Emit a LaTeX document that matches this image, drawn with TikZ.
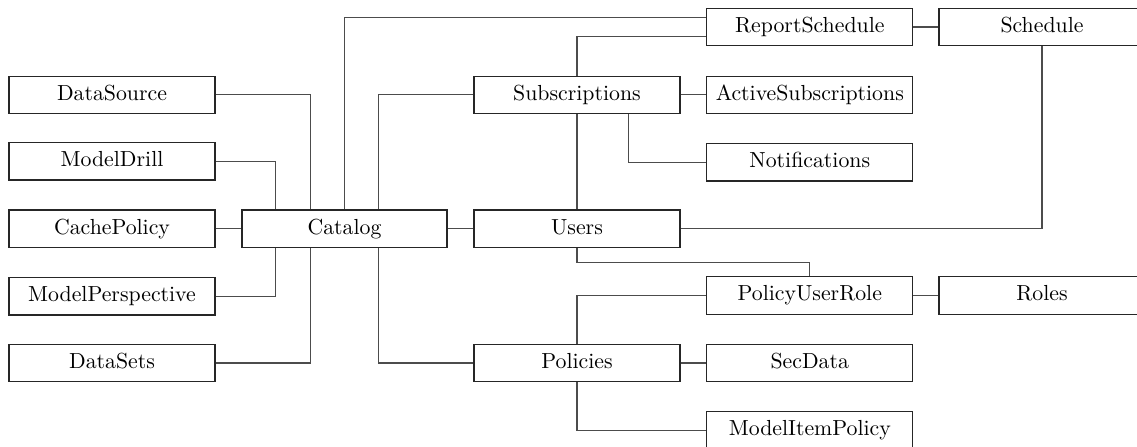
\documentclass[tikz,border=0pt]{standalone}
\usetikzlibrary{calc}
\begin{document}
\begin{tikzpicture}[x=0.5pt,y=-0.5pt,
  tbl/.style={draw=black!85, line width=0.6pt, minimum width=103pt, minimum height=18.75pt,
    inner sep=0pt, text height=7.4pt, text depth=2.2pt, anchor=center,
    font=\fontsize{10.9}{13}\selectfont},
  link/.style={draw=black!70, line width=0.55pt}]
\useasboundingbox (0,0) rectangle (1137,446);
\clip (0,0) rectangle (1137,446);

% left column
\node[tbl] (ds)  at (112,94.9)  {DataSource};
\node[tbl] (md)  at (112,161.2) {ModelDrill};
\node[tbl] (cp)  at (112,228.8) {CachePolicy};
\node[tbl] (mp)  at (112,296.3) {ModelPerspective};
\node[tbl] (dss) at (112,363)   {DataSets};

% catalog
\node[tbl, minimum width=102.5pt] (cat) at (344.5,228.8) {Catalog};

% middle column
\node[tbl] (sub) at (577,94.9)  {Subscriptions};
\node[tbl] (usr) at (577,228.8) {Users};
\node[tbl] (pol) at (577,363)   {Policies};

% right column
\node[tbl] (rs)  at (809.8,27)    {ReportSchedule};
\node[tbl] (act) at (809.8,94.9)  {ActiveSubscriptions};
\node[tbl] (ntf) at (809.8,162.3) {Notifications};
\node[tbl] (pur) at (809.8,295.5) {PolicyUserRole};
\node[tbl] (sec) at (809.8,363)   {SecData};
\node[tbl] (mip) at (809.8,430.5) {ModelItemPolicy};

% far right column
\node[tbl] (sch) at (1042,27)    {Schedule};
\node[tbl] (rol) at (1042,295.5) {Roles};

% catalog links
\draw[link] (ds.east) -| ($(cat.north west)!1/3!(cat.north east)$);
\draw[link] (md.east) -| ($(cat.north west)!1/6!(cat.north east)$);
\draw[link] (cp.east) -- (cat.west);
\draw[link] (mp.east) -| ($(cat.south west)!1/6!(cat.south east)$);
\draw[link] (dss.east) -| ($(cat.south west)!1/3!(cat.south east)$);
\draw[link] (cat.north) |- ($(rs.north west)!0.25!(rs.south west)$);
\draw[link] ($(cat.north west)!2/3!(cat.north east)$) |- (sub.west);
\draw[link] ($(cat.south west)!2/3!(cat.south east)$) |- (pol.west);
\draw[link] (cat.east) -- (usr.west);

% subscriptions links
\draw[link] (sub.north) |- ($(rs.north west)!0.75!(rs.south west)$);
\draw[link] (sub.east) -- (act.west);
\draw[link] (sub.south) -- (usr.north);
\draw[link] ($(sub.south west)!0.75!(sub.south east)$) |- (ntf.west);
\draw[link] (rs.east) -- (sch.west);

% users links
\draw[link] (usr.east) -| (sch.south);
\draw[link] (usr.south) |- ($(usr.south)!0.5!(pur.north)$) -| (pur.north);

% policies links
\draw[link] (pol.north) |- (pur.west);
\draw[link] (pur.east) -- (rol.west);
\draw[link] (pol.east) -- (sec.west);
\draw[link] (pol.south) |- (mip.west);
\end{tikzpicture}
\end{document}
